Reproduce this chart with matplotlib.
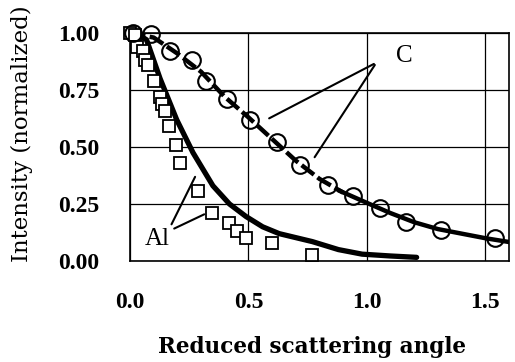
import matplotlib
matplotlib.use("Agg")
import matplotlib.pyplot as plt
import numpy as np

# Al measurements (squares)
al_x = [0.0, 0.02, 0.03, 0.056, 0.063, 0.077, 0.10, 0.127, 0.134, 0.148, 0.166,
        0.194, 0.211, 0.288, 0.345, 0.42, 0.45, 0.49, 0.60, 0.77]
al_y = [1.0, 0.99, 0.94, 0.92, 0.88, 0.86, 0.79, 0.72, 0.69, 0.66, 0.59,
        0.51, 0.43, 0.305, 0.21, 0.166, 0.13, 0.10, 0.078, 0.026]

# Al curve
al_cx = [0.0, 0.04, 0.07, 0.127, 0.197, 0.266, 0.35, 0.42, 0.49, 0.56, 0.63, 0.77, 0.88, 0.98, 1.1, 1.21]
al_cy = [1.0, 0.99, 0.97, 0.80, 0.62, 0.475, 0.33, 0.25, 0.195, 0.15, 0.12, 0.085, 0.05, 0.03, 0.022, 0.016]

# C measurements (circles)
c_x = [0.014, 0.09, 0.17, 0.26, 0.32, 0.41, 0.506, 0.62, 0.717, 0.837, 0.94,
       1.055, 1.167, 1.315, 1.54]
c_y = [1.0, 0.995, 0.92, 0.88, 0.79, 0.71, 0.62, 0.52, 0.42, 0.335, 0.283,
       0.232, 0.173, 0.137, 0.10]

# C curve: dashed part and solid part
c_dx = [0.0, 0.1, 0.2, 0.3, 0.4, 0.5, 0.6, 0.7, 0.8, 0.9]
c_dy = [1.0, 0.98, 0.91, 0.83, 0.72, 0.63, 0.535, 0.44, 0.36, 0.30]
c_sx = [0.88, 1.0, 1.1, 1.2, 1.3, 1.4, 1.5, 1.62]
c_sy = [0.31, 0.255, 0.21, 0.17, 0.14, 0.12, 0.10, 0.08]

xticks = [0.0, 0.5, 1.0, 1.5]
xtick_labels = ['0.0', '0.5', '1.0', '1.5']
yticks = [0.0, 0.25, 0.5, 0.75, 1.0]
ytick_labels = ['0.00', '0.25', '0.50', '0.75', '1.00']

plt.rcParams['font.family'] = 'Liberation Serif'

fig = plt.figure(figsize=(5.15, 3.62), dpi=100)
ax = fig.add_axes([130/515, 1 - 261/362, 379/515, 228/362])

ax.plot(al_cx, al_cy, color='black', lw=3.8, solid_capstyle='round', zorder=3)
ax.plot(c_dx, c_dy, color='black', lw=3.2, ls=(0, (3.5, 1.0)), zorder=3)
ax.plot(c_sx, c_sy, color='black', lw=3.2, solid_capstyle='round', zorder=3)

ax.plot(al_x, al_y, ls='none', marker='s', ms=8.5, mfc='white', mec='black',
        mew=1.3, zorder=4, clip_on=False)
ax.plot(c_x, c_y, ls='none', marker='o', ms=12, mfc='none', mec='black',
        mew=1.5, zorder=4, clip_on=False)

# annotations
ax.text(1.156, 0.90, 'C', fontsize=18, ha='center', va='center')
ax.annotate('', xy=(0.577, 0.62), xytext=(1.04, 0.87),
            arrowprops=dict(arrowstyle='-', color='black', lw=1.5))
ax.annotate('', xy=(0.773, 0.445), xytext=(1.04, 0.87),
            arrowprops=dict(arrowstyle='-', color='black', lw=1.5))
ax.text(0.116, 0.097, 'Al', fontsize=18, ha='center', va='center')
ax.annotate('', xy=(0.28, 0.38), xytext=(0.17, 0.15),
            arrowprops=dict(arrowstyle='-', color='black', lw=1.5))
ax.annotate('', xy=(0.324, 0.21), xytext=(0.176, 0.137),
            arrowprops=dict(arrowstyle='-', color='black', lw=1.5))

ax.set_xlim(0, 1.6)
ax.set_ylim(0, 1.0)
ax.set_xticks(xticks)
ax.set_xticklabels(xtick_labels, fontweight='bold', fontsize=17)
ax.set_yticks(yticks)
ax.set_yticklabels(ytick_labels, fontweight='bold', fontsize=17)
ax.tick_params(length=0)
ax.tick_params(axis='x', pad=22)
ax.tick_params(axis='y', pad=22)
ax.grid(True, color='black', lw=0.9)
for s in ax.spines.values():
    s.set_linewidth(1.2)

ax.set_xlabel('Reduced scattering angle', fontsize=15.5, fontweight='bold',
              family='DejaVu Serif')
ax.xaxis.set_label_coords(0.48, -0.33)
ax.set_ylabel('Intensity (normalized)', fontsize=16.5, family='DejaVu Serif')
ax.yaxis.set_label_coords(-0.285, 0.56)
ax.yaxis.label.set_va('center')

plt.savefig('out.png', dpi=100)
